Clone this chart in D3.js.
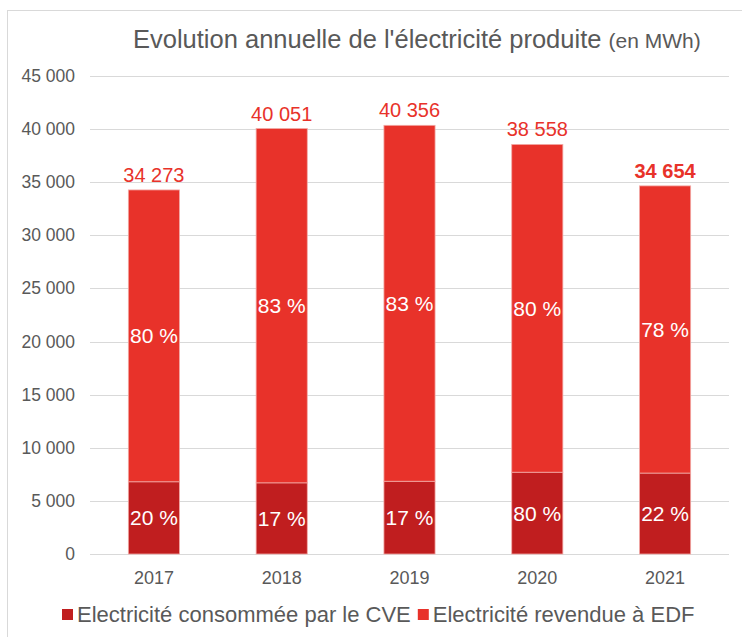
<!DOCTYPE html>
<html>
<head>
<meta charset="utf-8">
<script src="https://cdn.jsdelivr.net/npm/d3@7"></script>
<style>
  body { margin: 0; background: #fff; }
  text { font-family: "Liberation Sans", Arial, sans-serif; }
</style>
</head>
<body>
<div id="chart-area"></div>
<script>
const years = ["2017", "2018", "2019", "2020", "2021"];
const totals = [34273, 40051, 40356, 38558, 34654];
const consommee = [6800, 6700, 6850, 7700, 7620];
const revendue = [27473, 33351, 33506, 30858, 27034];
const pctConsommee = ["20 %", "17 %", "17 %", "80 %", "22 %"];
const pctRevendue = ["80 %", "83 %", "83 %", "80 %", "78 %"];
const yTicks = [0, 5000, 10000, 15000, 20000, 25000, 30000, 35000, 40000, 45000];
const seriesNames = ["Electricité consommée par le CVE", "Electricité revendue à EDF"];
const colors = ["#c01e1f", "#e8322a"];

const W = 742, H = 637;
const svg = d3.select("#chart-area")
  .append("svg")
  .attr("width", W)
  .attr("height", H);

// chart frame
svg.append("rect")
  .attr("x", 7.5).attr("y", 10.5)
  .attr("width", W + 10).attr("height", H + 10)
  .attr("fill", "none").attr("stroke", "#d9d9d9");

const x = d3.scaleBand().domain(years).range([90, 729]).paddingInner(0.6).paddingOuter(0.3);
const y = d3.scaleLinear().domain([0, 45000]).range([554, 76]);

// gridlines
svg.append("g")
  .selectAll("line")
  .data(yTicks)
  .enter()
  .append("line")
  .attr("x1", 90).attr("x2", 729)
  .attr("y1", d => Math.round(y(d)) + 0.5)
  .attr("y2", d => Math.round(y(d)) + 0.5)
  .attr("stroke", "#d9d9d9")
  .attr("stroke-width", 1);

// y axis labels
const fmt = v => d3.format(",")(v).replace(/,/g, " ");
svg.append("g")
  .selectAll("text")
  .data(yTicks)
  .enter()
  .append("text")
  .attr("x", 75)
  .attr("y", d => y(d) + 6)
  .attr("text-anchor", "end")
  .attr("font-size", 17.5)
  .attr("fill", "#595959")
  .text(d => fmt(d));

// x axis labels
svg.append("g")
  .selectAll("text")
  .data(years)
  .enter()
  .append("text")
  .attr("x", d => x(d) + x.bandwidth() / 2)
  .attr("y", 584)
  .attr("text-anchor", "middle")
  .attr("font-size", 18)
  .attr("fill", "#595959")
  .text(d => d);

// stacked bars
const rows = years.map((yr, i) => ({ year: yr, consommee: consommee[i], revendue: revendue[i] }));
const stack = d3.stack().keys(["consommee", "revendue"])(rows);

const layers = svg.append("g")
  .selectAll("g")
  .data(stack)
  .enter()
  .append("g")
  .attr("fill", (_, i) => colors[i]);

layers.selectAll("rect")
  .data(d => d)
  .enter()
  .append("rect")
  .attr("x", d => x(d.data.year))
  .attr("y", d => y(d[1]))
  .attr("width", x.bandwidth())
  .attr("height", d => y(d[0]) - y(d[1]))
  .attr("stroke", "#f2a9a5")
  .attr("stroke-width", 0.8);

// percentage labels
const pctLabels = [pctConsommee, pctRevendue];
layers.selectAll("text")
  .data((d, k) => d.map((s, i) => ({ s: s, label: pctLabels[k][i] })))
  .enter()
  .append("text")
  .attr("x", d => x(d.s.data.year) + x.bandwidth() / 2)
  .attr("y", d => (y(d.s[0]) + y(d.s[1])) / 2 + 7.5)
  .attr("text-anchor", "middle")
  .attr("font-size", 21)
  .attr("fill", "#ffffff")
  .text(d => d.label);

// totals
svg.append("g")
  .selectAll("text")
  .data(totals)
  .enter()
  .append("text")
  .attr("x", (_, i) => x(years[i]) + x.bandwidth() / 2)
  .attr("y", d => y(d) - 8)
  .attr("text-anchor", "middle")
  .attr("font-size", 20)
  .attr("font-weight", (_, i) => i === totals.length - 1 ? "bold" : "normal")
  .attr("fill", "#e8322a")
  .text(d => fmt(d));

// title
const title = svg.append("text")
  .attr("x", 133)
  .attr("y", 48)
  .attr("fill", "#595959")
  .attr("font-size", 25.5);
title.append("tspan").text("Evolution annuelle de l'électricité produite ");
title.append("tspan").attr("font-size", 21).text("(en MWh)");

// legend
const legend = svg.append("g").attr("transform", "translate(62,622)");
let lx = 0;
seriesNames.forEach((name, i) => {
  const g = legend.append("g").attr("transform", `translate(${lx},0)`);
  g.append("rect").attr("x", 0).attr("y", -13).attr("width", 11).attr("height", 11).attr("fill", colors[i]);
  const t = g.append("text").attr("x", 15).attr("y", 0)
    .attr("font-size", 22).attr("fill", "#595959").text(name);
  lx += 15 + t.node().getComputedTextLength() + 7;
});
</script>
</body>
</html>
